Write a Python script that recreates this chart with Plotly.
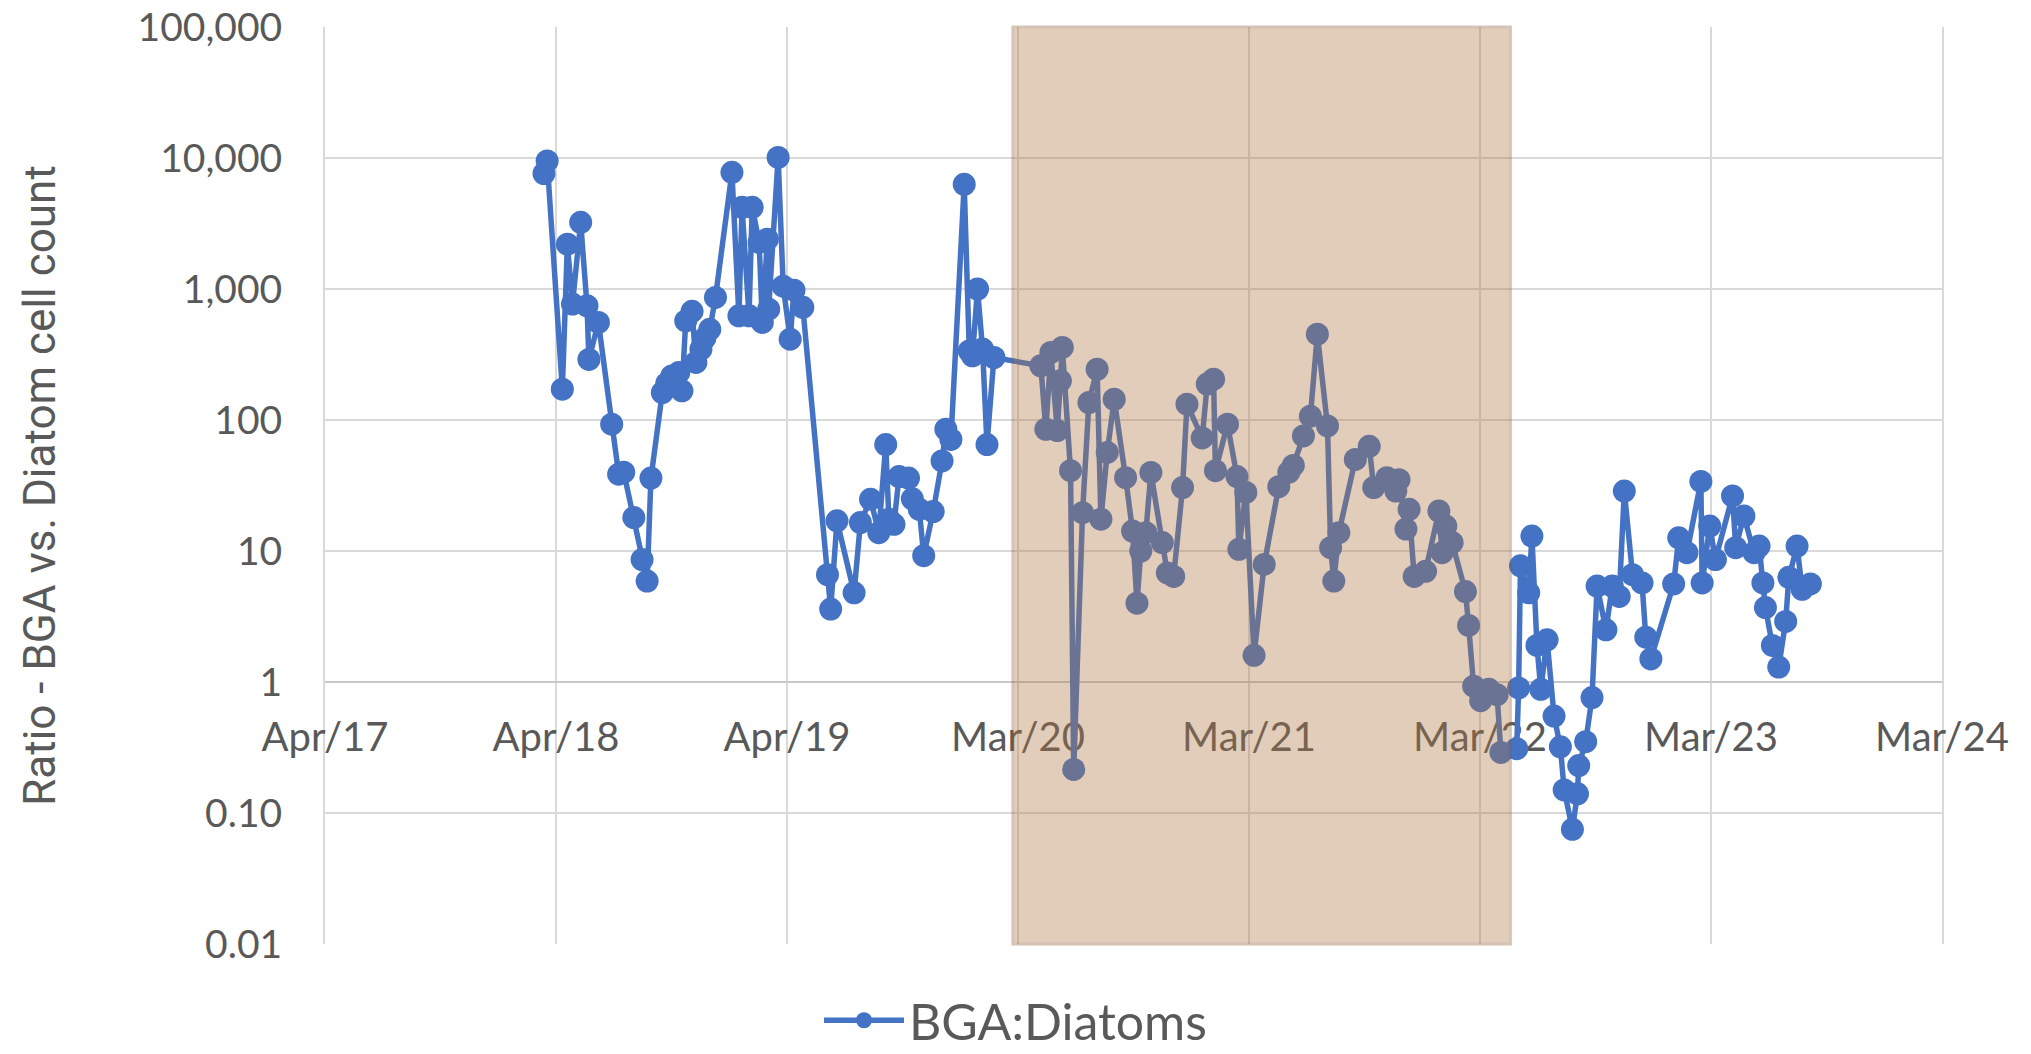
import plotly.graph_objects as go

# Sampling dates and the BGA:Diatom cell-count ratio measured on each date
sample_dates = [
    "2018-03-13", "2018-03-18", "2018-04-11", "2018-04-19", "2018-04-27", "2018-05-10",
    "2018-05-20", "2018-05-23", "2018-06-07", "2018-06-28", "2018-07-09", "2018-07-17",
    "2018-08-02", "2018-08-15", "2018-08-23", "2018-08-29", "2018-09-16", "2018-09-23",
    "2018-10-01", "2018-10-12", "2018-10-17", "2018-10-23", "2018-11-02", "2018-11-08",
    "2018-11-16", "2018-11-22", "2018-11-30", "2018-12-09",
    "2019-01-04", "2019-01-15", "2019-01-20", "2019-01-31", "2019-02-05", "2019-02-16",
    "2019-02-21", "2019-03-01", "2019-03-03", "2019-03-18", "2019-03-26", "2019-04-06",
    "2019-04-12", "2019-04-26", "2019-06-04", "2019-06-09", "2019-06-19", "2019-07-16",
    "2019-07-26", "2019-08-11", "2019-08-24", "2019-09-04", "2019-09-09", "2019-09-17",
    "2019-09-25", "2019-10-10", "2019-10-16", "2019-10-27", "2019-11-03", "2019-11-18",
    "2019-12-02", "2019-12-08", "2019-12-16",
    "2020-01-06", "2020-01-14", "2020-01-19", "2020-01-27", "2020-02-04", "2020-02-11",
    "2020-02-22", "2020-05-06", "2020-05-14", "2020-05-22", "2020-06-01", "2020-06-06",
    "2020-06-09", "2020-06-22", "2020-06-27", "2020-07-11", "2020-07-21", "2020-08-03",
    "2020-08-09", "2020-08-19", "2020-08-30", "2020-09-17", "2020-09-28", "2020-10-05",
    "2020-10-11", "2020-10-19", "2020-10-27", "2020-11-14", "2020-11-22", "2020-12-02",
    "2020-12-16", "2020-12-23",
    "2021-01-16", "2021-01-24", "2021-02-03", "2021-02-06", "2021-02-25", "2021-03-12",
    "2021-03-15", "2021-03-26", "2021-04-08", "2021-04-24", "2021-05-17", "2021-06-02",
    "2021-06-09", "2021-06-25", "2021-07-06", "2021-07-17", "2021-08-02", "2021-08-07",
    "2021-08-12", "2021-08-20", "2021-09-15", "2021-10-07", "2021-10-14", "2021-11-04",
    "2021-11-18", "2021-11-23", "2021-12-04", "2021-12-09", "2021-12-17",
    "2022-01-04", "2022-01-25", "2022-01-30", "2022-02-05", "2022-02-15", "2022-03-08",
    "2022-03-13", "2022-03-21", "2022-04-01", "2022-04-14", "2022-04-27", "2022-05-03",
    "2022-05-28", "2022-05-31", "2022-06-03", "2022-06-16", "2022-06-21", "2022-06-29",
    "2022-07-05", "2022-07-15", "2022-07-26", "2022-08-05", "2022-08-11", "2022-08-24",
    "2022-09-01", "2022-09-03", "2022-09-14", "2022-09-24", "2022-10-02", "2022-10-16",
    "2022-10-26", "2022-11-06", "2022-11-14", "2022-11-27", "2022-12-12", "2022-12-18",
    "2022-12-26",
    "2023-01-31", "2023-02-08", "2023-02-21", "2023-03-15", "2023-03-17", "2023-03-29",
    "2023-04-07", "2023-05-04", "2023-05-09", "2023-05-22", "2023-06-07", "2023-06-15",
    "2023-06-21", "2023-06-25", "2023-07-06", "2023-07-16", "2023-07-27", "2023-08-01",
    "2023-08-14", "2023-08-22", "2023-09-04",
]

bga_diatom_ratio = [
    7600, 9500, 172, 2200, 767, 3230,
    745, 290, 556, 93, 38.6, 40,
    18, 8.6, 5.9, 36, 162, 190,
    217, 230, 167, 571, 676, 275,
    347, 420, 492, 863,
    7780, 624, 4200, 624, 4200, 2270,
    556, 2400, 702, 10100, 1050, 414,
    980, 724, 6.6, 3.6, 17, 4.8,
    16.5, 24.8, 13.8, 65, 17.5, 16,
    37, 36, 25, 20.8, 9.2, 20,
    48.7, 85, 71,
    6300, 337, 309, 1000, 348, 65,
    300, 259, 85, 328, 83, 199,
    358, 41, 0.215, 19.6, 136, 244,
    17.5, 56.5, 144, 36.3, 14.2, 4.0,
    10, 13.8, 39.8, 11.6, 6.8, 6.4,
    30.5, 132,
    73, 188, 205, 41, 93, 37,
    10.3, 28, 1.6, 7.9, 31, 40,
    45, 75.5, 107, 452, 90, 10.6,
    5.9, 13.8, 50, 63, 30.5, 36.3,
    28.7, 35, 14.7, 20.8, 6.4,
    7.0, 20.2, 9.7, 15.5, 11.6, 4.9,
    2.7, 0.93, 0.72, 0.88, 0.80, 0.29,
    0.31, 0.90, 7.7, 4.8, 13, 1.9,
    0.88, 2.1, 0.55, 0.32, 0.15, 0.075,
    0.14, 0.23, 0.35, 0.76, 5.4, 2.5,
    5.4, 4.5, 28.7, 6.6, 5.7, 2.2,
    1.5,
    5.6, 12.6, 9.7, 34, 5.7, 15.5,
    8.6, 26.3, 10.6, 18.5, 9.7, 10.9,
    5.7, 3.7, 1.9, 1.3, 2.9, 6.3,
    10.9, 5.1, 5.6,
]

# Yearly date ticks (365-day steps from the axis start)
x_tick_dates = ["2017-04-01", "2018-04-01", "2019-04-01", "2020-03-31",
                "2021-03-31", "2022-03-31", "2023-03-31", "2024-03-30"]
x_tick_labels = ["Apr/17", "Apr/18", "Apr/19", "Mar/20",
                 "Mar/21", "Mar/22", "Mar/23", "Mar/24"]

y_tick_values = [0.01, 0.1, 1, 10, 100, 1000, 10000, 100000]
y_tick_labels = ["0.01", "0.10", "1", "10", "100", "1,000", "10,000", "100,000"]

# Highlighted period
period_start = "2020-03-23"
period_end = "2022-05-18"

text_grey = "#595959"
grid_grey = "#D9D9D9"
blue = "#4472C4"

fig = go.Figure()
fig.add_trace(go.Scatter(
    x=sample_dates,
    y=bga_diatom_ratio,
    mode="lines+markers",
    name="BGA:Diatoms",
    line=dict(color=blue, width=5.5),
    marker=dict(color=blue, size=23),
))

fig.add_shape(
    type="rect", xref="x", yref="paper",
    x0=period_start, x1=period_end, y0=0, y1=1,
    fillcolor="rgb(175,118,66)", opacity=0.36,
    line=dict(color="rgb(140,95,55)", width=3),
    layer="above",
)

fig.update_layout(
    width=2031, height=1054,
    margin=dict(l=325, r=89, t=27, b=110, autoexpand=False),
    paper_bgcolor="white", plot_bgcolor="white",
    showlegend=True,
    legend=dict(
        orientation="h", xref="container", yref="container",
        x=0.5, xanchor="center", y=0.032, yanchor="middle",
        font=dict(family="Lato", size=50, color=text_grey),
        itemwidth=80,
    ),
    xaxis=dict(
        type="date",
        range=[x_tick_dates[0], x_tick_dates[-1]],
        tickmode="array", tickvals=x_tick_dates, ticktext=x_tick_labels,
        showgrid=True, gridcolor=grid_grey, gridwidth=2,
        showline=True, linecolor="#C8C8C8", linewidth=2,
        anchor="free", position=2 / 7,
        layer="below traces",
        ticks="", ticklabelstandoff=20,
        tickfont=dict(family="Lato", size=40, color=text_grey),
        zeroline=False,
    ),
    yaxis=dict(
        type="log", range=[-2, 5],
        tickmode="array", tickvals=y_tick_values, ticktext=y_tick_labels,
        showgrid=True, gridcolor=grid_grey, gridwidth=2,
        showline=True, linecolor=grid_grey, linewidth=2, mirror=True,
        ticks="", ticklabelstandoff=33,
        tickfont=dict(family="Lato", size=39, color=text_grey),
        title=dict(
            text="Ratio - BGA vs. Diatom cell count",
            font=dict(family="Roboto", size=44, color=text_grey),
            standoff=68,
        ),
        layer="below traces",
    ),
)

fig.write_html("out.html")
